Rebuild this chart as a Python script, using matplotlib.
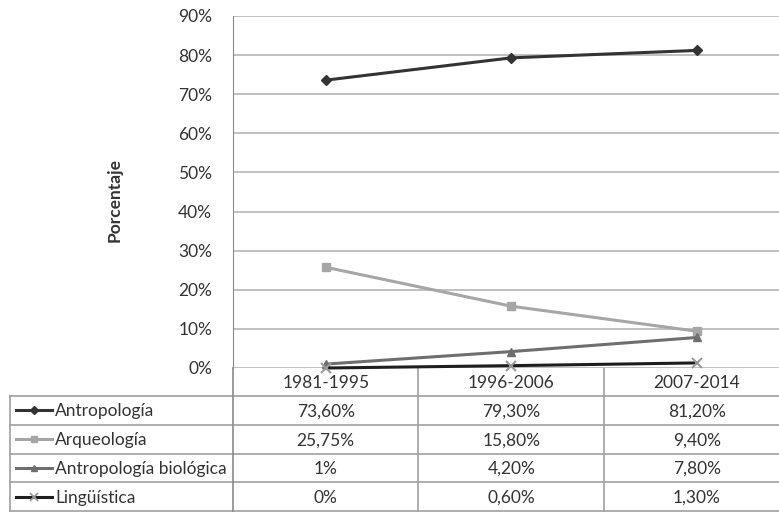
import matplotlib
matplotlib.use("Agg")
import matplotlib.pyplot as plt

plt.rcParams['font.family'] = ['Lato', 'DejaVu Sans']

categories = ["1981-1995", "1996-2006", "2007-2014"]
series_names = ["Antropología", "Arqueología", "Antropología biológica", "Lingüística"]
antropologia = [73.6, 79.3, 81.2]
arqueologia = [25.75, 15.8, 9.4]
biologica = [1.0, 4.2, 7.8]
linguistica = [0.0, 0.6, 1.3]
table_text = [
    ["73,60%", "79,30%", "81,20%"],
    ["25,75%", "15,80%", "9,40%"],
    ["1%", "4,20%", "7,80%"],
    ["0%", "0,60%", "1,30%"],
]
y_ticks = [0, 10, 20, 30, 40, 50, 60, 70, 80, 90]

values = [antropologia, arqueologia, biologica, linguistica]
colors = ["#333333", "#a6a6a6", "#6e6e6e", "#1e1e1e"]
markers = ["D", "s", "^", "x"]
msizes = [5, 6, 6, 7]
mcolors = ["#333333", "#a6a6a6", "#6e6e6e", "#9a9a9a"]
text_color = "#333333"
grid_color = "#b5b5b5"
table_color = "#a0a0a0"
fs = 12.5

W, H = 779, 513
fig = plt.figure(figsize=(W / 100, H / 100), dpi=100)
left, top0, bottom0 = 233, 16, 368
cat_w = 185.5
ax = fig.add_axes([left / W, (H - bottom0) / H, 3 * cat_w / W, (bottom0 - top0) / H])
ax.set_xlim(-0.5, 2.5)
ax.set_ylim(0, 90)
ax.set_yticks(y_ticks)
ax.set_yticklabels([f"{v}%" for v in y_ticks], fontsize=fs, color=text_color)
ax.set_xticks([])
ax.tick_params(axis='y', length=0, pad=15)
for s in ["top", "right", "bottom"]:
    ax.spines[s].set_visible(False)
ax.spines["left"].set_color("#8a8a8a")
ax.yaxis.grid(True, color=grid_color, lw=1.2)
ax.set_axisbelow(True)
ax.set_ylabel("Porcentaje", fontsize=fs, fontweight="bold", color=text_color)
ax.yaxis.set_label_coords((123 - left) / (3 * cat_w), (bottom0 - 200) / (bottom0 - top0))

x = list(range(len(categories)))
order = [1, 2, 3, 0]
for i in order:
    ax.plot(x, values[i], color=colors[i], lw=2.2, marker=markers[i], ms=msizes[i],
            mfc=mcolors[i], mec=mcolors[i], mew=1.5 if markers[i] == "x" else 1,
            clip_on=False, zorder=3)

# Table overlay in pixel coordinates
tab = fig.add_axes([0, 0, 1, 1], zorder=-1)
tab.set_xlim(0, W)
tab.set_ylim(H, 0)
tab.axis("off")

def xpix(v):
    disp = ax.transData.transform((v, 0))
    return fig.transFigure.inverted().transform(disp)[0] * W

header_top, header_bot = 368, 396
row_h = 28.8
n_rows = len(series_names)
table_left = 10
bottom_edge = header_bot + n_rows * row_h

for r in range(n_rows + 1):
    y = header_bot + r * row_h
    tab.plot([table_left, W + 20], [y, y], color=table_color, lw=1.2, clip_on=False)
tab.plot([table_left, table_left], [header_bot, bottom_edge], color=table_color, lw=1.2)
tab.plot([left, left], [header_top, bottom_edge], color="#8a8a8a", lw=1.2)
for b in [0.5, 1.5, 2.5]:
    xb = xpix(b)
    tab.plot([xb, xb], [header_top, bottom_edge], color=table_color, lw=1.2)

for i, c in enumerate(categories):
    tab.text(xpix(i), (header_top + header_bot) / 2 + 1, c, ha="center", va="center",
             fontsize=fs, color=text_color)

for r, name in enumerate(series_names):
    yc = header_bot + (r + 0.5) * row_h
    tab.plot([16, 52], [yc, yc], color=colors[r], lw=2.2)
    tab.plot([34], [yc], marker=markers[r], ms=msizes[r] - 1, color=mcolors[r],
             mec=mcolors[r], mew=1.3 if markers[r] == "x" else 1)
    tab.text(55, yc + 1, name, ha="left", va="center", fontsize=fs, color=text_color)
    for i in range(len(categories)):
        tab.text(xpix(i), yc + 1, table_text[r][i], ha="center", va="center",
                 fontsize=fs, color=text_color)

fig.savefig("out.png", dpi=100, facecolor="white")
